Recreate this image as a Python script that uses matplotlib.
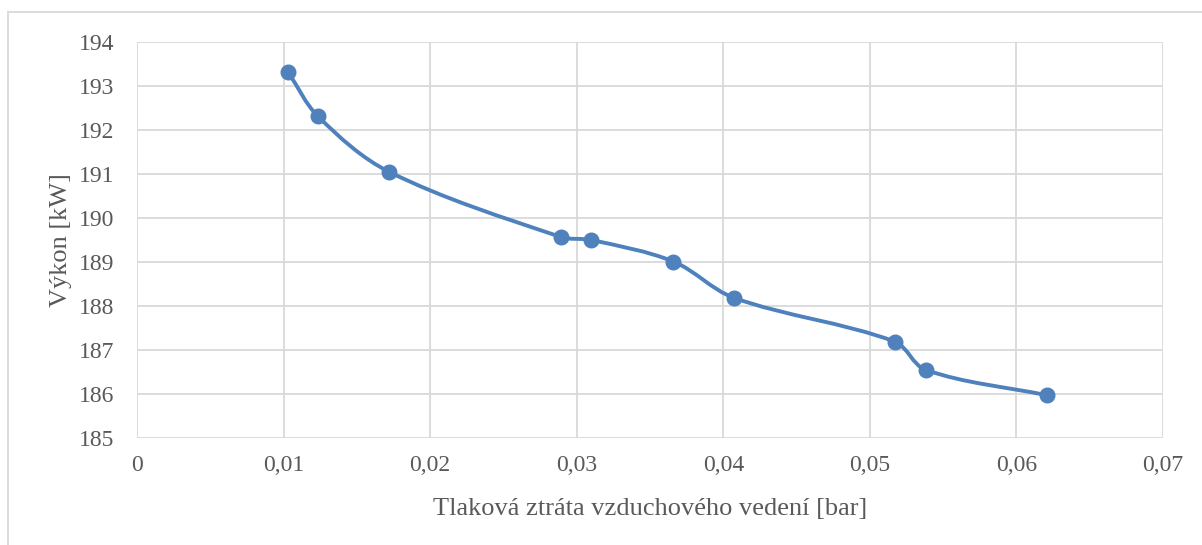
import matplotlib.pyplot as plt
import numpy as np
from matplotlib.path import Path
from matplotlib.patches import PathPatch, Rectangle
from matplotlib.ticker import FuncFormatter

# data
tlak = [0.0103, 0.01235, 0.0172, 0.0289, 0.0310, 0.0366, 0.0407, 0.0517, 0.0538, 0.0621]
vykon = [193.32, 192.31, 191.05, 189.57, 189.50, 189.01, 188.19, 187.19, 186.55, 185.97]

x_ticks = [0, 0.01, 0.02, 0.03, 0.04, 0.05, 0.06, 0.07]
y_ticks = [185, 186, 187, 188, 189, 190, 191, 192, 193, 194]

blue = '#4F81BD'
grey_text = '#595959'
grid_col = '#d9d9d9'

plt.rcParams['font.family'] = ['Liberation Serif', 'DejaVu Serif']

fig = plt.figure(figsize=(12.02, 5.45), dpi=100)
ax = fig.add_axes([137 / 1202, 1 - 438 / 545, (1163 - 137) / 1202, (438 - 42) / 545])

ax.set_xlim(0, 0.07)
ax.set_ylim(185, 194)
ax.set_xticks(x_ticks)
ax.set_yticks(y_ticks)
ax.xaxis.set_major_formatter(FuncFormatter(lambda v, p: '0' if v == 0 else f'{v:.2f}'.replace('.', ',')))
ax.grid(True, color=grid_col, linewidth=1.3)
ax.set_axisbelow(True)
for s in ax.spines.values():
    s.set_visible(False)
ax.tick_params(length=0, labelsize=17, colors=grey_text)
ax.tick_params(axis='y', pad=16)
ax.tick_params(axis='x', pad=12)

# smooth curve like excel, bezier control points weighted by segment length
fig.canvas.draw()
pts = ax.transData.transform(np.column_stack([tlak, vykon]))
n = len(pts)
verts = [pts[0]]
codes = [Path.MOVETO]


def tangent(i, seg):
    # control offset at point i for a segment of length seg
    p_prev = pts[max(i - 1, 0)]
    p_next = pts[min(i + 1, n - 1)]
    d = p_next - p_prev
    dl = np.linalg.norm(d)
    if dl == 0:
        return d
    return d / dl * seg / 3


for i in range(n - 1):
    p1 = pts[i]
    p2 = pts[i + 1]
    seg = np.linalg.norm(p2 - p1)
    c1 = p1 + tangent(i, seg)
    c2 = p2 - tangent(i + 1, seg)
    verts += [c1, c2, p2]
    codes += [Path.CURVE4] * 3
verts = ax.transData.inverted().transform(np.array(verts))
curve = PathPatch(Path(verts, codes), facecolor='none', edgecolor=blue, linewidth=2.8, capstyle='round', zorder=3)
ax.add_patch(curve)
ax.plot(tlak, vykon, 'o', color=blue, markersize=10.5, zorder=4)

ax.set_xlabel('Tlaková ztráta vzduchového vedení [bar]', fontsize=19, color=grey_text, labelpad=16)
ax.set_ylabel('Výkon [kW]', fontsize=19, color=grey_text, labelpad=5)

# chart area border
fig.patches.append(Rectangle((8 / 1202, -0.1), 1.2, 1 - 12 / 545 + 0.1, transform=fig.transFigure,
                             fill=False, edgecolor=grid_col, linewidth=1.3))

plt.savefig('out.png', dpi=100)
